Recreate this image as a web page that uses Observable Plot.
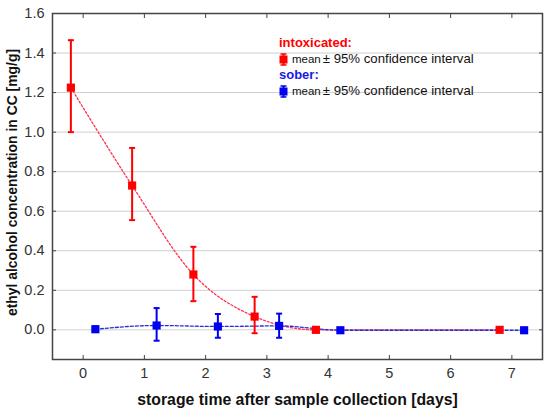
<!DOCTYPE html>
<html>
<head>
<meta charset="utf-8">
<script src="https://cdn.jsdelivr.net/npm/d3@7"></script>
<script src="https://cdn.jsdelivr.net/npm/@observablehq/plot@0.6"></script>
<style>
  html, body { margin: 0; padding: 0; background: #fff; }
  #wrap { position: relative; width: 550px; height: 412px; font-family: "Liberation Sans", Arial, sans-serif; }
  #legend { position: absolute; left: 279px; top: 35px; font-size: 13.2px; line-height: 16px; }
  #legend .h { font-weight: bold; font-size: 13px; }
  #legend .row { display: flex; align-items: center; color: #111; }
  #legend .m { font-size: 11.5px; margin-right: 2px; }
  #legend svg { margin-right: 4px; }
</style>
</head>
<body>
<div id="wrap"></div>
<script>
// ---- data ----
const daysIntox = [-0.2, 0.8, 1.8, 2.8, 3.8, 6.8];
const meanIntox = [1.225, 0.73, 0.28, 0.067, 0.0, 0.0];
const loIntox   = [1.0, 0.555, 0.145, -0.017, null, null];
const hiIntox   = [1.465, 0.92, 0.42, 0.167, null, null];

const daysSober = [0.2, 1.2, 2.2, 3.2, 4.2, 7.2];
const meanSober = [0.003, 0.022, 0.017, 0.02, -0.002, -0.002];
const loSober   = [-0.008, -0.055, -0.04, -0.04, null, null];
const hiSober   = [0.018, 0.11, 0.08, 0.082, null, null];

const xTicks = [0, 1, 2, 3, 4, 5, 6, 7];
const yTicks = [0, 0.2, 0.4, 0.6, 0.8, 1.0, 1.2, 1.4, 1.6];

const RED = "#ff0000", RED_LINE = "#ff3050";
const BLUE = "#0000ee", BLUE_LINE = "#2a2ad8";

const intox = daysIntox.map((d, i) => ({x: d, y: meanIntox[i], lo: loIntox[i], hi: hiIntox[i]}));
const sober = daysSober.map((d, i) => ({x: d, y: meanSober[i], lo: loSober[i], hi: hiSober[i]}));
const intoxCI = intox.filter(d => d.lo != null);
const soberCI = sober.filter(d => d.lo != null);

const cap = {draw(ctx, size) { const w = 3; ctx.moveTo(-w, 0); ctx.lineTo(w, 0); }};

const font = "Liberation Sans, Arial, sans-serif";

const chart = Plot.plot({
  width: 550,
  height: 412,
  marginLeft: 52,
  marginRight: 8,
  marginTop: 13,
  marginBottom: 53,
  style: {fontFamily: font, background: "#fff", overflow: "visible"},
  x: {domain: [-0.5, 7.5]},
  y: {domain: [-0.15, 1.6]},
  marks: [
    Plot.gridY(yTicks, {stroke: "#cfcfcf", strokeOpacity: 1, strokeWidth: 1}),
    // tick labels
    Plot.axisX(xTicks, {tickSize: 0, tickPadding: 8, fontSize: 14.5, fill: "#333", label: null}),
    Plot.axisY(yTicks, {tickSize: 0, tickPadding: 8, fontSize: 14.5, fill: "#333", label: null, tickFormat: d3.format(".1f")}),
    // inward ticks
    Plot.axisX(xTicks, {anchor: "bottom", tickSize: -4, tickFormat: () => "", stroke: "#444", label: null}),
    Plot.axisX(xTicks, {anchor: "top", tickSize: -4, tickFormat: () => "", stroke: "#444", label: null}),
    Plot.axisY(yTicks, {anchor: "left", tickSize: -4, tickFormat: () => "", stroke: "#444", label: null}),
    Plot.axisY(yTicks, {anchor: "right", tickSize: -4, tickFormat: () => "", stroke: "#444", label: null}),
    // lines
    Plot.line(intox, {x: "x", y: "y", stroke: RED_LINE, strokeWidth: 1.3, strokeDasharray: "2,2", curve: "monotone-x"}),
    Plot.line(sober, {x: "x", y: "y", stroke: BLUE_LINE, strokeWidth: 1.3, strokeDasharray: "3,2", curve: "monotone-x"}),
    // error bars
    Plot.ruleX(intoxCI, {x: "x", y1: "lo", y2: "hi", stroke: RED, strokeWidth: 2}),
    Plot.dot(intoxCI, {x: "x", y: "lo", symbol: cap, stroke: RED, strokeWidth: 2, r: 3}),
    Plot.dot(intoxCI, {x: "x", y: "hi", symbol: cap, stroke: RED, strokeWidth: 2, r: 3}),
    Plot.ruleX(soberCI, {x: "x", y1: "lo", y2: "hi", stroke: BLUE, strokeWidth: 2}),
    Plot.dot(soberCI, {x: "x", y: "lo", symbol: cap, stroke: BLUE, strokeWidth: 2, r: 3}),
    Plot.dot(soberCI, {x: "x", y: "hi", symbol: cap, stroke: BLUE, strokeWidth: 2, r: 3}),
    // markers
    Plot.dot(intox, {x: "x", y: "y", symbol: "square", fill: RED, r: 4.6}),
    Plot.dot(sober, {x: "x", y: "y", symbol: "square", fill: BLUE, r: 4.6}),
    Plot.frame({stroke: "#444", strokeWidth: 1.5}),
    // axis titles
    Plot.text(["storage time after sample collection [days]"], {frameAnchor: "bottom", dy: 45, fontSize: 15.8, fontWeight: "bold", fill: "#111"}),
    Plot.text(["ethyl alcohol concentration in CC [mg/g]"], {frameAnchor: "left", textAnchor: "middle", dx: -40, dy: -4, rotate: -90, fontSize: 13.9, fontWeight: "bold", fill: "#111"})
  ]
});

const wrap = document.getElementById("wrap");
wrap.appendChild(chart);

function icon(color) {
  return `<svg width="9" height="13" viewBox="0 0 9 13"><line x1="4.5" y1="1" x2="4.5" y2="12" stroke="${color}" stroke-width="2"/><line x1="1.5" y1="1" x2="7.5" y2="1" stroke="${color}" stroke-width="1.5"/><line x1="1.5" y1="12" x2="7.5" y2="12" stroke="${color}" stroke-width="1.5"/><rect x="0.5" y="2.5" width="8" height="8" fill="${color}"/></svg>`;
}
const legend = document.createElement("div");
legend.id = "legend";
legend.innerHTML = `
  <div class="h" style="color:${RED}">intoxicated:</div>
  <div class="row">${icon(RED)}<span class="m">mean</span><span>± 95% confidence interval</span></div>
  <div class="h" style="color:#1a1adf">sober:</div>
  <div class="row">${icon(BLUE)}<span class="m">mean</span><span>± 95% confidence interval</span></div>`;
wrap.appendChild(legend);
</script>
</body>
</html>
